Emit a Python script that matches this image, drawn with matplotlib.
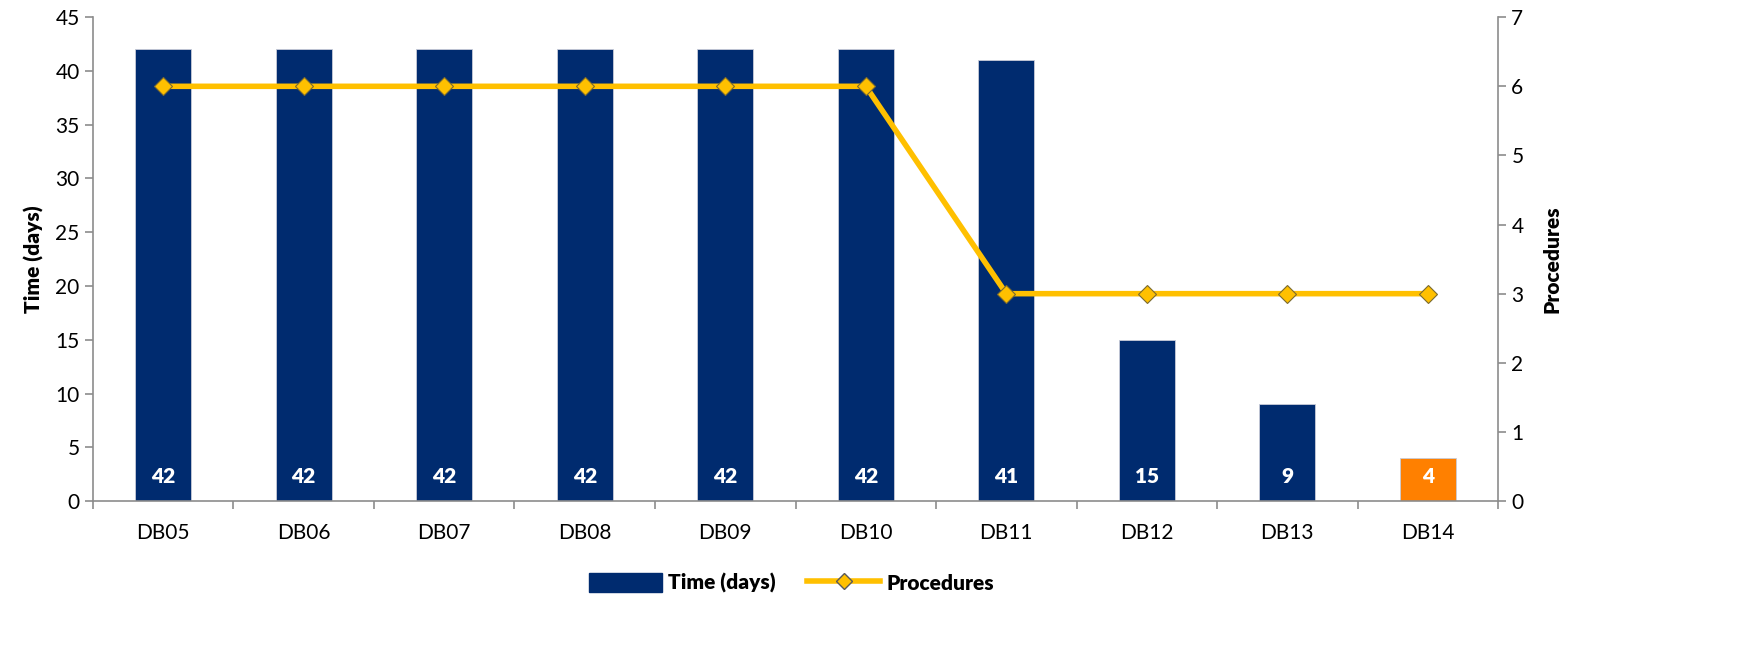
import numpy as np
import matplotlib.pyplot as plt
from matplotlib.lines import Line2D
from matplotlib.patches import Patch

plt.rcParams['font.family'] = ['Lato', 'DejaVu Sans']

categories = ["DB05", "DB06", "DB07", "DB08", "DB09", "DB10", "DB11", "DB12", "DB13", "DB14"]
time_days = [42, 42, 42, 42, 42, 42, 41, 15, 9, 4]
procedures = [6, 6, 6, 6, 6, 6, 3, 3, 3, 3]

navy = "#002B6F"
orange = "#FF8000"
gold = "#FFC000"
grey = "#8C8C8C"
fs = 15

fig = plt.figure(figsize=(17.4, 6.61), dpi=100)
ax = fig.add_axes([0.0534, 0.242, 0.8076, 0.732])
x = np.arange(len(categories))
colors = [navy] * (len(categories) - 1) + [orange]
bars = ax.bar(x, time_days, width=0.4, color=colors, edgecolor="#C8CCD8", linewidth=0.6, zorder=2)
for xi, v in zip(x, time_days):
    ax.text(xi, 2.3, str(v), ha="center", va="center", color="white",
            fontsize=fs, fontweight="heavy", zorder=3)

ax.set_xlim(-0.5, len(categories) - 0.5)
ax.set_ylim(0, 45)
ax.set_yticks(range(0, 46, 5))
ax.set_xticks(x)
ax.set_xticklabels(categories)
ax.set_xticks(np.arange(-0.5, len(categories), 1), minor=True)
ax.tick_params(axis="x", which="major", length=0, pad=16, labelsize=fs)
ax.tick_params(axis="x", which="minor", length=6, color=grey, width=1.2)
ax.tick_params(axis="y", length=6, color=grey, width=1.2, labelsize=fs)
ax.spines["top"].set_visible(False)
ax.spines["right"].set_visible(False)
for s in ["left", "bottom"]:
    ax.spines[s].set_color(grey)
    ax.spines[s].set_linewidth(1.2)
ax.set_ylabel("Time (days)", fontsize=fs, fontweight="heavy", labelpad=8)

ax2 = ax.twinx()
ax2.plot(x, procedures, color=gold, linewidth=4, marker="D", markersize=9,
         markerfacecolor=gold, markeredgecolor="#7A6A30", markeredgewidth=0.8, zorder=4)
ax2.set_ylim(0, 7)
ax2.set_yticks(range(0, 8))
ax2.tick_params(axis="y", length=6, color=grey, width=1.2, labelsize=fs)
ax2.spines["top"].set_visible(False)
ax2.spines["left"].set_visible(False)
ax2.spines["bottom"].set_visible(False)
ax2.spines["right"].set_color(grey)
ax2.spines["right"].set_linewidth(1.2)
ax2.set_ylabel("Procedures", fontsize=fs, fontweight="heavy", labelpad=14)

handles = [Patch(facecolor=navy, edgecolor=navy),
           Line2D([0], [0], color=gold, linewidth=4, marker="D", markersize=8,
                  markerfacecolor=gold, markeredgecolor="#5A5A5A", markeredgewidth=1)]
fig.legend(handles, ["Time (days)", "Procedures"], loc="center", bbox_to_anchor=(0.455, 0.118),
           ncol=2, frameon=False, prop={"size": fs, "weight": "heavy"},
           handlelength=3.5, handleheight=1.0, columnspacing=1.5, handletextpad=0.3)

fig.savefig("out.png", dpi=100)
